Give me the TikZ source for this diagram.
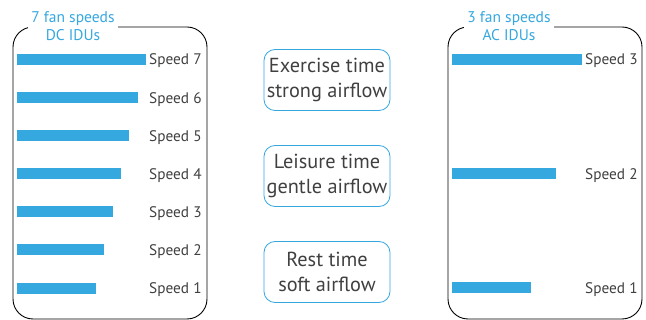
\documentclass[tikz,border=0pt]{standalone}
\usepackage{fontspec}
\setmainfont{PT Sans}
\usepackage{xcolor}
\definecolor{fanblue}{RGB}{53,168,224}
\definecolor{txtgray}{RGB}{64,64,64}
\usetikzlibrary{positioning}
\tikzset{
  fanbox/.style={draw=black,line width=0.9pt,rounded corners=20pt,
        minimum width=194pt,minimum height=292pt,inner sep=0pt},
  boxtitle/.style={fill=white,align=center,text=fanblue,
        font=\fontsize{15.5}{17.5}\selectfont,inner xsep=3pt,inner ysep=0pt},
  speedbar/.style={fill=fanblue,inner sep=0pt,minimum height=11pt,anchor=west},
  speedlabel/.style={text=txtgray,font=\fontsize{15.3}{17}\selectfont,
        anchor=base west,inner sep=0pt},
  modebox/.style={draw=fanblue,line width=0.8pt,rounded corners=11pt,
        minimum width=126pt,minimum height=61pt,align=center,text=txtgray,
        font=\fontsize{20.3}{25}\selectfont,inner sep=0pt}
}
\begin{document}
\begin{tikzpicture}[x=1pt,y=-1pt]
  \useasboundingbox (0,0) rectangle (646,320);
  %% DC indoor units
  \node[fanbox] (dcbox) at (110,173) {};
  \node[boxtitle] (dctitle) at (73,26) {7 fan speeds\\DC IDUs};
  \foreach \n/\r in {7/146,6/138,5/129,4/121,3/113,2/104,1/96}{
    \pgfmathsetmacro{\yy}{59.5+(7-\n)*38.1}
    \node[speedbar,minimum width=\r pt-17pt] (dcbar\n) at (17,\yy) {};
    \node[speedlabel] (dclabel\n) at (149,\yy+5.5) {Speed \n};
  }
  %% AC indoor units
  \node[fanbox] (acbox) at (545,173) {};
  \node[boxtitle] (actitle) at (509,26) {3 fan speeds\\AC IDUs};
  \foreach \n/\r/\yy in {3/582/59.5,2/556/174,1/531/288}{
    \node[speedbar,minimum width=\r pt-452pt] (acbar\n) at (452,\yy) {};
    \node[speedlabel] (aclabel\n) at (585,\yy+5.5) {Speed \n};
  }
  %% airflow modes
  \node[modebox] (exercise) at (327,80) {Exercise time\\strong airflow};
  \node[modebox] (leisure) at (327,176) {Leisure time\\gentle airflow};
  \node[modebox] (rest) at (327,272) {Rest time\\soft airflow};
\end{tikzpicture}
\end{document}
